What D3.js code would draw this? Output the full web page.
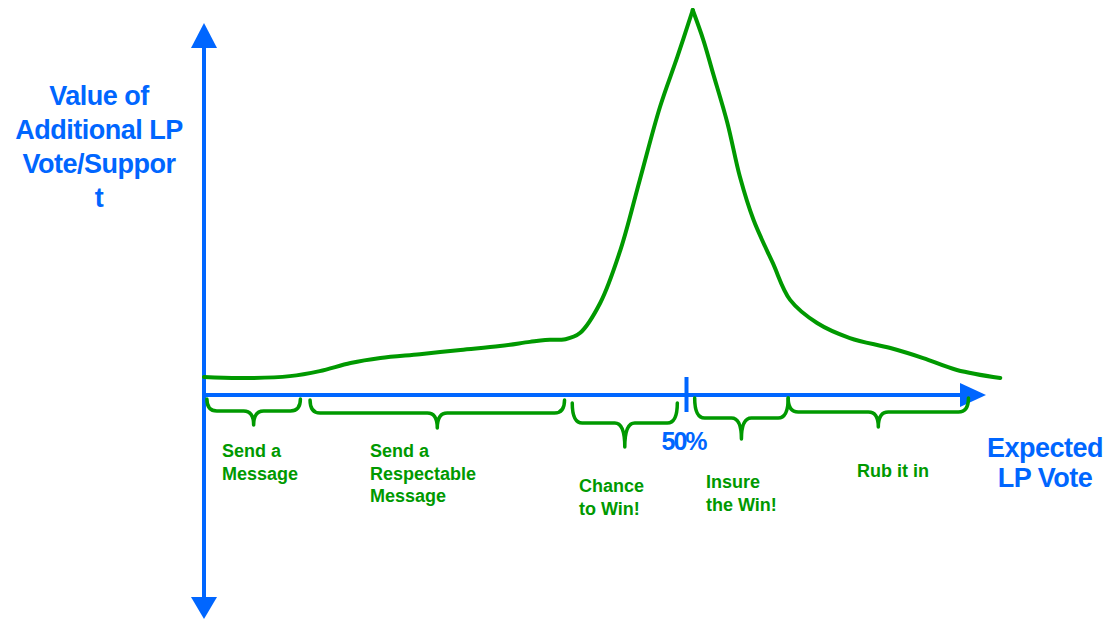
<!DOCTYPE html>
<html>
<head>
<meta charset="utf-8">
<script src="https://cdn.jsdelivr.net/npm/d3@7"></script>
<style>
  html, body { margin: 0; padding: 0; background: #fff; }
  svg { display: block; }
</style>
</head>
<body>
<div id="chart"></div>
<script>
// curve: expected vote (%) vs value of an extra vote (arbitrary units, peak = 100)
const votePct = [0, 3.7, 8.9, 12.0, 15.2, 18.3, 22.4, 26.6, 30.7, 33.8, 35.4, 37.5, 39.0, 41.1, 43.2, 45.2, 47.3, 49.1, 50.7, 51.8, 52.8, 54.3, 55.6, 57.0, 59.0, 60.8, 63.6, 67.0, 71.2, 74.6, 78.1, 82.6];
const voteValue = [4.7, 4.4, 4.9, 6.2, 8.3, 9.6, 10.6, 11.7, 12.7, 13.8, 14.3, 14.5, 16.1, 23.9, 37.7, 55.8, 74.8, 87.8, 100, 92.2, 83.6, 70.6, 56.6, 45.5, 34.3, 24.7, 18.7, 14.8, 12.2, 9.6, 6.5, 4.4];

// brace ranges along the x axis (%), and their labels
const braceStart = [0.3, 11.0, 38.2, 50.9, 60.6];
const braceEnd = [10.0, 37.4, 49.1, 60.6, 79.3];
const braceLabels = [
  ["Send a", "Message"],
  ["Send a", "Respectable", "Message"],
  ["Chance", "to Win!"],
  ["Insure", "the Win!"],
  ["Rub it in"]
];

const tickValues = [50];
const yTitle = ["Value of", "Additional LP", "Vote/Suppor", "t"];
const xTitle = ["Expected", "LP Vote"];

// layout (pixels)
const width = 1119, height = 620;
const blue = "#0066ff", green = "#009900";
const braceTop = [399, 400, 403, 398, 398];
const braceMid = [411, 413, 423, 418, 412];
const braceTip = [425, 428, 447, 439, 427];
const labelX = [222, 370, 579, 706, 857];
const labelY = [457, 457, 492, 488, 477];

const x = d3.scaleLinear().domain([0, 50]).range([204, 686]);
const y = d3.scaleLinear().domain([0, 100]).range([395, 10]);

const svg = d3.select("#chart")
  .append("svg")
  .attr("width", width)
  .attr("height", height);

// axes
const axes = svg.append("g").classed("axes", true);
const x0 = x(0), y0 = y(0);
axes.append("line")
  .attr("x1", x0).attr("x2", x0)
  .attr("y1", 46).attr("y2", 599)
  .attr("stroke", blue).attr("stroke-width", 4);
axes.append("path")
  .attr("d", `M${x0},23 L${x0 + 13},48 L${x0 - 13},48 Z`)
  .attr("fill", blue);
axes.append("path")
  .attr("d", `M${x0},619 L${x0 + 13},597 L${x0 - 13},597 Z`)
  .attr("fill", blue);
axes.append("line")
  .attr("x1", x0).attr("x2", 962)
  .attr("y1", y0).attr("y2", y0)
  .attr("stroke", blue).attr("stroke-width", 4);
axes.append("path")
  .attr("d", `M986,${y0} L960,${y0 - 12} L960,${y0 + 12} Z`)
  .attr("fill", blue);

const xAxis = d3.axisBottom(x)
  .tickValues(tickValues)
  .tickSize(0)
  .tickFormat(d => d + "%");
const gx = svg.append("g")
  .attr("transform", `translate(0,${y0})`)
  .call(xAxis);
gx.select(".domain").remove();
gx.selectAll(".tick line")
  .attr("y1", -18).attr("y2", 17)
  .attr("stroke", blue).attr("stroke-width", 4);
gx.selectAll(".tick text")
  .attr("y", 55).attr("dy", null)
  .attr("dx", -3)
  .attr("fill", blue)
  .style("font-family", "'Liberation Sans', Arial, sans-serif")
  .style("font-weight", "bold")
  .style("font-size", "25px")
  .style("letter-spacing", "-2px");

// curve, drawn as two halves so the peak stays a sharp point
const points = votePct.map((v, i) => [v, voteValue[i]]);
const peak = d3.maxIndex(voteValue);
const line = d3.line()
  .x(d => x(d[0]))
  .y(d => y(d[1]))
  .curve(d3.curveCatmullRom.alpha(0.5));
svg.append("g").classed("curve", true)
  .selectAll("path")
  .data([points.slice(0, peak + 1), points.slice(peak)])
  .join("path")
  .attr("d", line)
  .attr("fill", "none")
  .attr("stroke", green)
  .attr("stroke-width", 4)
  .attr("stroke-linejoin", "round")
  .attr("stroke-linecap", "round");

// braces
function bracePath(a, b, top, mid, tip) {
  const xa = x(a), xb = x(b), xc = (xa + xb) / 2;
  const r = Math.min(10, (xb - xa) / 6);
  return `M${xa},${top} Q${xa},${mid} ${xa + r},${mid} L${xc - r},${mid}` +
    ` Q${xc},${mid} ${xc},${tip} Q${xc},${mid} ${xc + r},${mid}` +
    ` L${xb - r},${mid} Q${xb},${mid} ${xb},${top}`;
}
const braces = svg.append("g").classed("braces", true);
braces.selectAll("path")
  .data(braceStart)
  .join("path")
  .attr("d", (d, i) => bracePath(d, braceEnd[i], braceTop[i], braceMid[i], braceTip[i]))
  .attr("fill", "none")
  .attr("stroke", green)
  .attr("stroke-width", 3.5)
  .attr("stroke-linejoin", "round")
  .attr("stroke-linecap", "round");

const labels = svg.append("g").classed("labels", true);
labels.selectAll("text")
  .data(braceLabels)
  .join("text")
  .attr("x", (d, i) => labelX[i])
  .attr("y", (d, i) => labelY[i])
  .attr("fill", green)
  .style("font-family", "'Liberation Sans', Arial, sans-serif")
  .style("font-weight", "bold")
  .style("font-size", "18px")
  .selectAll("tspan")
  .data(d => d)
  .join("tspan")
  .attr("x", function () { return this.parentNode.getAttribute("x"); })
  .attr("dy", (d, i) => i === 0 ? 0 : 22.5)
  .text(d => d);

// axis titles
const titleFont = "'Liberation Sans', Arial, sans-serif";
svg.append("text")
  .attr("x", 99).attr("y", 105)
  .attr("text-anchor", "middle")
  .attr("fill", blue)
  .style("font-family", titleFont)
  .style("font-weight", "bold")
  .style("font-size", "27px")
  .style("letter-spacing", "-0.5px")
  .selectAll("tspan")
  .data(yTitle)
  .join("tspan")
  .attr("x", 99)
  .attr("dy", (d, i) => i === 0 ? 0 : 34)
  .text(d => d);

svg.append("text")
  .attr("x", 1045).attr("y", 457)
  .attr("text-anchor", "middle")
  .attr("fill", blue)
  .style("font-family", titleFont)
  .style("font-weight", "bold")
  .style("font-size", "27px")
  .style("letter-spacing", "-0.5px")
  .selectAll("tspan")
  .data(xTitle)
  .join("tspan")
  .attr("x", 1045)
  .attr("dy", (d, i) => i === 0 ? 0 : 30)
  .text(d => d);
</script>
</body>
</html>
